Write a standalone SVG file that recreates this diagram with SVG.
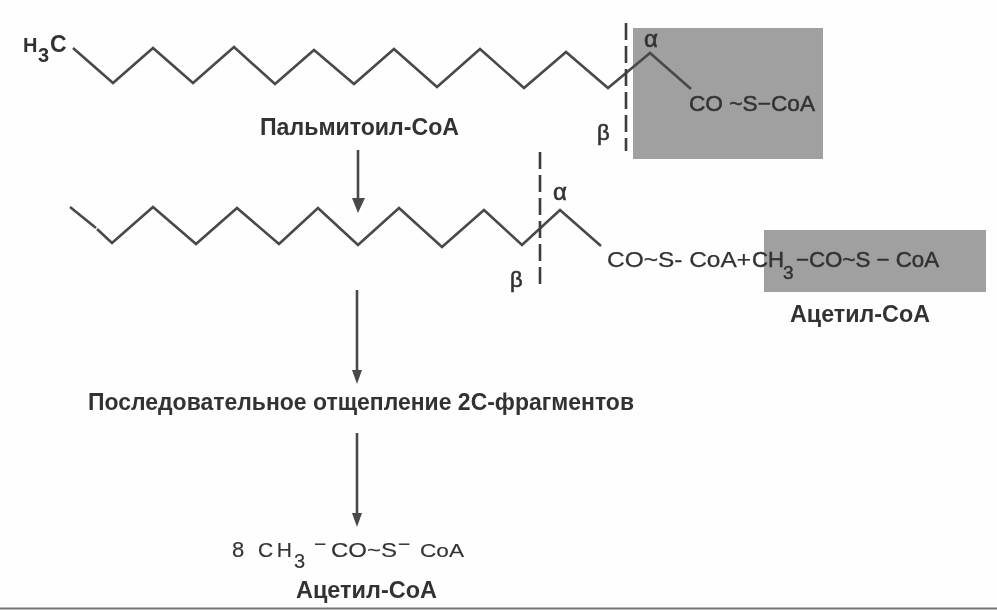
<svg xmlns="http://www.w3.org/2000/svg" width="997" height="610" viewBox="0 0 997 610">
<style>
text{font-family:"Liberation Sans",Arial,sans-serif;fill:#333}
.lab{font-size:23px;font-weight:bold}
.f{font-size:22px;stroke:#333;stroke-width:.5px}
.t{font-size:21px;stroke:#333;stroke-width:.15px}
.gr{font-size:24px;stroke:#333;stroke-width:.6px}
.chain{fill:none;stroke:#484848;stroke-width:2.6;stroke-linejoin:miter}
.cut{fill:none;stroke:#3c3c3c;stroke-width:2.6;stroke-dasharray:17 6}
.arr{fill:none;stroke:#4a4a4a;stroke-width:2.6}
.head{fill:#4a4a4a}
.box{fill:#a0a0a0}
</style>
<defs><filter id="s" x="-5%" y="-5%" width="110%" height="110%"><feGaussianBlur stdDeviation="0.6"/></filter></defs>
<rect width="997" height="610" fill="#fefefe"/>
<g filter="url(#s)">
<g id="boxes">
<rect class="box" x="633" y="28" width="190" height="131"/>
<rect class="box" x="764" y="230" width="222" height="62"/>
</g>
<g id="connectors">
<line class="arr" x1="358" y1="150" x2="358" y2="200"/>
<polygon class="head" points="352,198 365,198 358,213"/>
<line class="arr" x1="357" y1="290" x2="357" y2="375"/>
<polygon class="head" points="352,370 362,370 357,384"/>
<line class="arr" x1="357" y1="433" x2="357" y2="518"/>
<polygon class="head" points="352,513 362,513 357,527"/>
</g>
<g id="chain-1">
<polyline class="chain" points="73,48 113,83 153,48 193,83 234,47 275,84 314,50 354,84 394,49 437,87 480,49 524,88 566,52 608,88 650,53 691,89"/>
<line class="cut" x1="626" y1="23" x2="626" y2="151"/>
<text class="lab" x="23" y="52" style="font-size:20px">H</text><text class="lab" x="38" y="62" style="font-size:20px">3</text><text class="lab" x="50" y="52" style="font-size:23px">C</text>
<text class="gr" x="644" y="47">α</text>
<text class="gr" x="597" y="140" style="font-size:22px">β</text>
<text class="f" x="689" y="111" textLength="126" lengthAdjust="spacingAndGlyphs">CO ~S−CoA</text>
<text class="lab" x="260" y="135" textLength="199" lengthAdjust="spacingAndGlyphs">Пальмитоил-СоА</text>
</g>
<g id="chain-2">
<polyline class="chain" points="70,207 96,228"/>
<polyline class="chain" points="97,229 112,243 153,207 196,244 237,208 279,244 318,208 358,245 399,208 442,247 484,210 522,245 560,210 601,246"/>
<line class="cut" x1="540" y1="152" x2="540" y2="284"/>
<text class="gr" x="553" y="200">α</text>
<text class="gr" x="510" y="287" style="font-size:22px">β</text>
<text class="f" x="607" y="267" textLength="144" lengthAdjust="spacingAndGlyphs" style="stroke-width:.25px">CO~S- CoA+</text>
<text class="f" x="752" y="267" textLength="32" lengthAdjust="spacingAndGlyphs">CH</text><text class="f" x="783" y="279" style="font-size:19px">3</text>
<text class="f" x="796" y="267" textLength="143" lengthAdjust="spacingAndGlyphs">−CO~S − CoA</text>
<text class="lab" x="790" y="322" textLength="140" lengthAdjust="spacingAndGlyphs">Ацетил-СоА</text>
</g>
<g id="step">
<text class="lab" x="88" y="410" textLength="546" lengthAdjust="spacingAndGlyphs">Последовательное отщепление 2С-фрагментов</text>
</g>
<g id="product">
<text class="t" x="232" y="557" style="font-size:22px">8</text>
<text class="t" x="258" y="557" textLength="34" lengthAdjust="spacing">CH</text>
<text class="t" x="294" y="568" style="font-size:20px">3</text>
<text class="t" x="314" y="551">−</text>
<text class="t" x="331" y="557" textLength="66" lengthAdjust="spacingAndGlyphs">CO~S</text>
<text class="t" x="398" y="551">−</text>
<text class="t" x="420" y="557" textLength="44" lengthAdjust="spacingAndGlyphs" style="font-size:19px">CoA</text>
<text class="lab" x="296" y="598" textLength="141" lengthAdjust="spacingAndGlyphs">Ацетил-СоА</text>
</g>
<line id="rule" x1="0" y1="608.5" x2="997" y2="608.5" stroke="#777" stroke-width="2"/>
</g>
</svg>
